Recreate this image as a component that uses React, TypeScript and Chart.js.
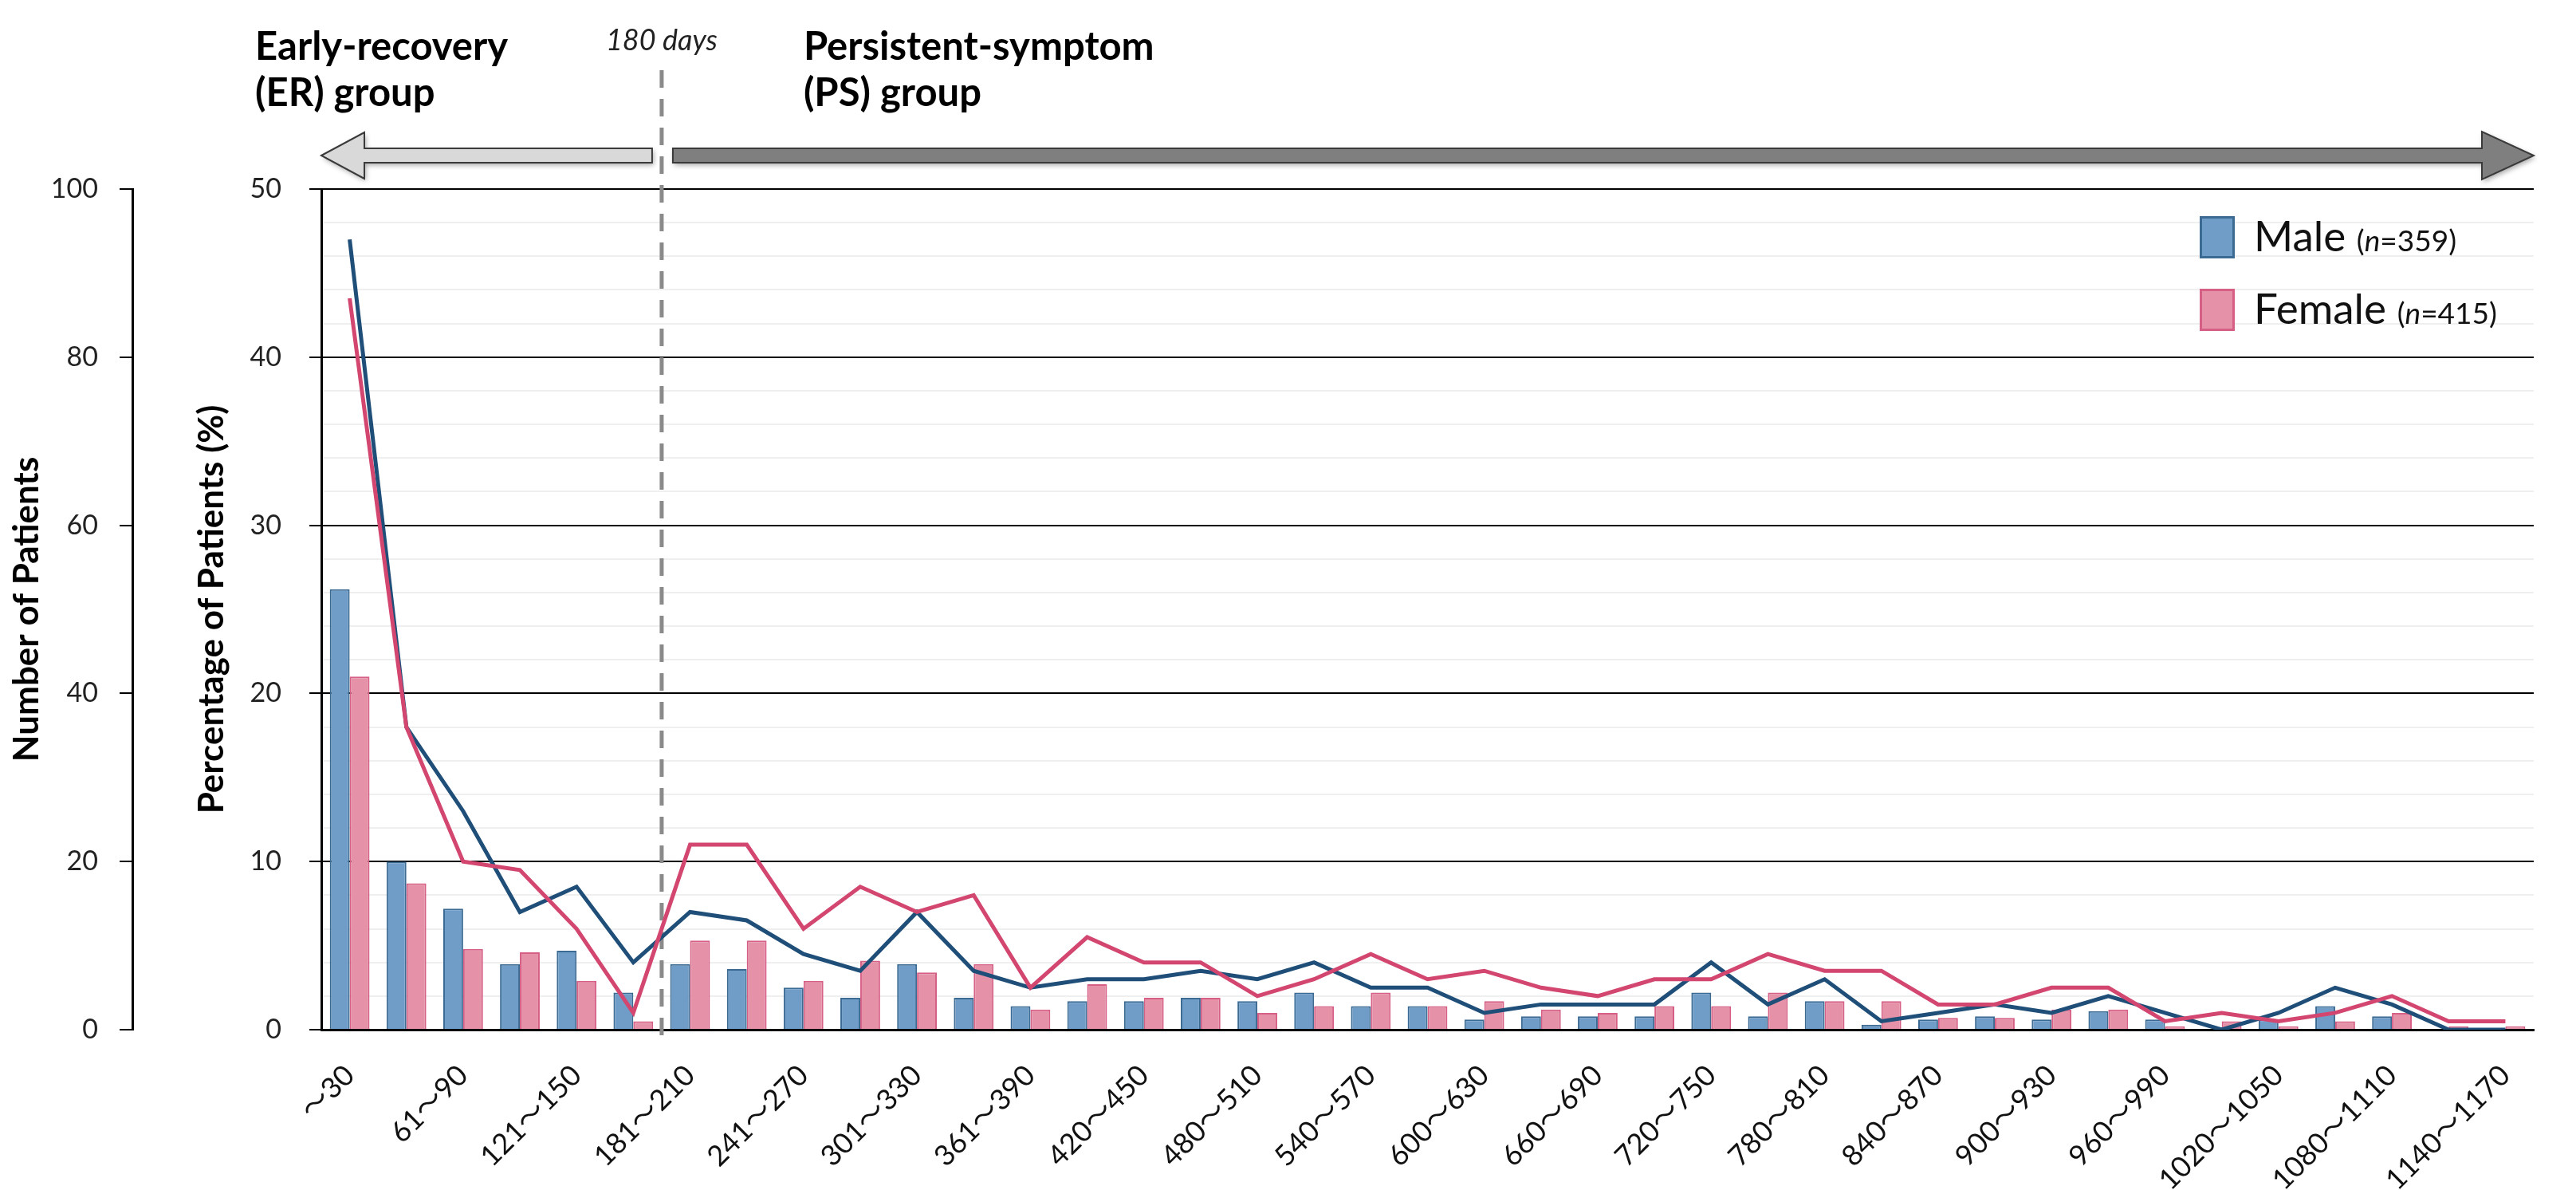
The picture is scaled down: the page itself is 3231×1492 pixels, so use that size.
import React, { useEffect, useRef } from "react";
import { Chart, registerables } from "chart.js";

Chart.register(...registerables);

const categories = [
  "～30", "31～60", "61～90", "91～120", "121～150", "151～180", "181～210", "211～240",
  "241～270", "271～300", "301～330", "331～360", "361～390", "391～420", "420～450", "451～480",
  "480～510", "511～540", "540～570", "571～600", "600～630", "631～660", "660～690", "691～720",
  "720～750", "751～780", "780～810", "811～840", "840～870", "871～900", "900～930", "931～960",
  "960～990", "991～1020", "1020～1050", "1051～1080", "1080～1110", "1111～1140", "1140～1170",
];

const malePct = [
  26.2, 10.0, 7.2, 3.9, 4.7, 2.2, 3.9, 3.6, 2.5, 1.9, 3.9, 1.9, 1.4, 1.7, 1.7, 1.9, 1.7, 2.2, 1.4, 1.4,
  0.6, 0.8, 0.8, 0.8, 2.2, 0.8, 1.7, 0.3, 0.6, 0.8, 0.6, 1.1, 0.6, 0, 0.6, 1.4, 0.8, 0, 0,
];
const femalePct = [
  21.0, 8.7, 4.8, 4.6, 2.9, 0.5, 5.3, 5.3, 2.9, 4.1, 3.4, 3.9, 1.2, 2.7, 1.9, 1.9, 1.0, 1.4, 2.2, 1.4,
  1.7, 1.2, 1.0, 1.4, 1.4, 2.2, 1.7, 1.7, 0.7, 0.7, 1.2, 1.2, 0.2, 0.5, 0.2, 0.5, 1.0, 0.2, 0.2,
];
const maleCount = [
  94, 36, 26, 14, 17, 8, 14, 13, 9, 7, 14, 7, 5, 6, 6, 7, 6, 8, 5, 5,
  2, 3, 3, 3, 8, 3, 6, 1, 2, 3, 2, 4, 2, 0, 2, 5, 3, 0, 0,
];
const femaleCount = [
  87, 36, 20, 19, 12, 2, 22, 22, 12, 17, 14, 16, 5, 11, 8, 8, 4, 6, 9, 6,
  7, 5, 4, 6, 6, 9, 7, 7, 3, 3, 5, 5, 1, 2, 1, 2, 4, 1, 1,
];

const seriesNames = ["Male", "Female"];
const sampleSizes = [359, 415];
const pctTicks = { min: 0, max: 50, step: 2, major: 10 };
const countTicks = { min: 0, max: 100, step: 20 };
const boundaryIndex = 5; // last category of the early-recovery group (151～180)

const FONT = "Lato, 'Noto Sans CJK JP', sans-serif";
const C = {
  maleFill: "#6f9dc7",
  maleBorder: "#3b6a93",
  maleLine: "#1f4e78",
  femaleFill: "#e591a8",
  femaleBorder: "#d65f85",
  femaleLine: "#d2466f",
};

const isMajor = (c: any) => !!c.tick && Math.round(c.tick.value) % pctTicks.major === 0;

const decorPlugin = {
  id: "decor",
  beforeDatasetsDraw(chart: any) {
    const { ctx, scales } = chart;
    const x = scales.x;
    const dashX = (x.getPixelForValue(boundaryIndex) + x.getPixelForValue(boundaryIndex + 1)) / 2;
    ctx.save();
    ctx.strokeStyle = "#8a8a8a";
    ctx.lineWidth = 5;
    ctx.setLineDash([22, 14]);
    ctx.beginPath();
    ctx.moveTo(dashX, 88);
    ctx.lineTo(dashX, chart.chartArea.bottom + 12);
    ctx.stroke();
    ctx.restore();
  },
  afterDraw(chart: any) {
    const { ctx, scales, chartArea } = chart;
    const x = scales.x;
    const dashX = (x.getPixelForValue(boundaryIndex) + x.getPixelForValue(boundaryIndex + 1)) / 2;
    const L = chartArea.left;
    const R = chartArea.right;
    const cy = chartArea.top - 42;

    const arrow = (pts: number[][], fill: string) => {
      ctx.save();
      ctx.shadowColor = "rgba(0,0,0,0.35)";
      ctx.shadowBlur = 6;
      ctx.shadowOffsetX = 2;
      ctx.shadowOffsetY = 3;
      ctx.beginPath();
      pts.forEach((p, i) => (i ? ctx.lineTo(p[0], p[1]) : ctx.moveTo(p[0], p[1])));
      ctx.closePath();
      ctx.fillStyle = fill;
      ctx.fill();
      ctx.shadowColor = "transparent";
      ctx.lineWidth = 2;
      ctx.strokeStyle = "#3a3a3a";
      ctx.stroke();
      ctx.restore();
    };
    const lEnd = dashX - 12;
    arrow(
      [
        [L, cy], [L + 54, cy - 29], [L + 54, cy - 9], [lEnd, cy - 9],
        [lEnd, cy + 9], [L + 54, cy + 9], [L + 54, cy + 29],
      ],
      "#d9d9d9"
    );
    const rStart = dashX + 14;
    arrow(
      [
        [rStart, cy - 9], [R - 65, cy - 9], [R - 65, cy - 30], [R, cy],
        [R - 65, cy + 30], [R - 65, cy + 9], [rStart, cy + 9],
      ],
      "#7f7f7f"
    );

    ctx.save();
    ctx.fillStyle = "#000";
    ctx.textAlign = "left";
    ctx.textBaseline = "alphabetic";
    ctx.font = `bold 49px ${FONT}`;
    ctx.fillText("Early-recovery", L - 83, 75);
    ctx.fillText("(ER) group", L - 83, 133);
    ctx.fillText("Persistent-symptom", dashX + 178, 75);
    ctx.fillText("(PS) group", dashX + 178, 133);
    ctx.font = `italic 36px ${FONT}`;
    ctx.textAlign = "center";
    ctx.fillStyle = "#222";
    ctx.fillText("180 days", dashX, 63);
    ctx.restore();

    const fills = [C.maleFill, C.femaleFill];
    const borders = [C.maleBorder, C.femaleBorder];
    const bx = R - 419;
    const rows = [chartArea.top + 34, chartArea.top + 125];
    ctx.save();
    rows.forEach((top, i) => {
      ctx.fillStyle = fills[i];
      ctx.fillRect(bx, top, 44, 53);
      ctx.strokeStyle = borders[i];
      ctx.lineWidth = 3;
      ctx.strokeRect(bx + 1.5, top + 1.5, 41, 50);
      const base = top + 44;
      let tx = bx + 68;
      ctx.fillStyle = "#111";
      ctx.textAlign = "left";
      ctx.font = `53px ${FONT}`;
      ctx.fillText(seriesNames[i], tx, base);
      tx += ctx.measureText(seriesNames[i] + " ").width;
      ctx.font = `37px ${FONT}`;
      ctx.fillText("(", tx, base);
      tx += ctx.measureText("(").width;
      ctx.font = `italic 37px ${FONT}`;
      ctx.fillText("n", tx, base);
      tx += ctx.measureText("n").width;
      ctx.font = `37px ${FONT}`;
      ctx.fillText(`=${sampleSizes[i]})`, tx, base);
    });
    ctx.restore();
  },
};

export default function App() {
  const ref = useRef<HTMLCanvasElement | null>(null);
  useEffect(() => {
    if (!ref.current) return;
    Chart.defaults.font.family = FONT;
    const chart = new Chart(ref.current, {
      type: "bar",
      data: {
        labels: categories,
        datasets: [
          {
            type: "bar",
            label: seriesNames[0],
            data: malePct,
            yAxisID: "yPct",
            backgroundColor: C.maleFill,
            borderColor: C.maleBorder,
            borderWidth: 2,
            categoryPercentage: 0.7,
            barPercentage: 1,
            order: 5,
          },
          {
            type: "bar",
            label: seriesNames[1],
            data: femalePct,
            yAxisID: "yPct",
            backgroundColor: C.femaleFill,
            borderColor: C.femaleBorder,
            borderWidth: 2,
            categoryPercentage: 0.7,
            barPercentage: 1,
            order: 5,
          },
          {
            type: "line",
            label: seriesNames[0] + " (count)",
            data: maleCount,
            yAxisID: "yNum",
            borderColor: C.maleLine,
            borderWidth: 5,
            pointRadius: 0,
            tension: 0,
            order: 1,
          } as any,
          {
            type: "line",
            label: seriesNames[1] + " (count)",
            data: femaleCount,
            yAxisID: "yNum",
            borderColor: C.femaleLine,
            borderWidth: 5,
            pointRadius: 0,
            tension: 0,
            order: 0,
          } as any,
        ],
      },
      options: {
        animation: false,
        responsive: true,
        maintainAspectRatio: false,
        layout: { padding: { left: 0, top: 237, right: 53, bottom: 0 } },
        plugins: { legend: { display: false }, tooltip: { enabled: false } },
        scales: {
          x: {
            type: "category",
            offset: true,
            grid: { display: false, drawTicks: false },
            border: { display: true, color: "#000", width: 3 },
            ticks: {
              autoSkip: false,
              minRotation: 45,
              maxRotation: 45,
              padding: 36,
              color: "#111",
              font: { size: 36, family: FONT },
              callback: (_v: any, i: number) => (i % 2 === 0 ? categories[i] : ""),
            },
            afterFit: (s: any) => {
              s.height = 201;
            },
          },
          yPct: {
            type: "linear",
            position: "left",
            weight: 0,
            min: pctTicks.min,
            max: pctTicks.max,
            ticks: {
              autoSkip: false,
              stepSize: pctTicks.step,
              padding: 35,
              color: "#222",
              font: { size: 34, family: FONT },
              callback: (v: any) => (Math.round(Number(v)) % pctTicks.major === 0 ? String(v) : ""),
            },
            grid: {
              color: (c: any) => (isMajor(c) ? "#000" : "#efefef"),
              lineWidth: 2,
              tickColor: (c: any) => (isMajor(c) ? "#000" : "rgba(0,0,0,0)"),
              tickLength: 15,
              tickWidth: 2,
            },
            border: { display: true, color: "#000", width: 3 },
            title: {
              display: true,
              text: "Percentage of Patients (%)",
              color: "#000",
              font: { size: 44, weight: "bold", family: FONT },
              padding: { top: 73, bottom: 0 },
            },
            afterFit: (s: any) => {
              s.width = 237;
            },
          },
          yNum: {
            type: "linear",
            position: "left",
            weight: 1,
            min: countTicks.min,
            max: countTicks.max,
            ticks: {
              autoSkip: false,
              stepSize: countTicks.step,
              padding: 27,
              color: "#222",
              font: { size: 34, family: FONT },
            },
            grid: {
              drawOnChartArea: false,
              color: "#000",
              tickLength: 16,
              lineWidth: 2,
            },
            border: { display: true, color: "#000", width: 3 },
            title: {
              display: true,
              text: "Number of Patients",
              color: "#000",
              font: { size: 44, weight: "bold", family: FONT },
              padding: { top: 7, bottom: 0 },
            },
            afterFit: (s: any) => {
              s.width = 166;
            },
          },
        },
      },
      plugins: [decorPlugin],
    });
    return () => chart.destroy();
  }, []);

  return (
    <div style={{ position: "fixed", left: 0, top: 0, width: 3231, height: 1492, background: "#fff" }}>
      <canvas ref={ref} />
    </div>
  );
}
